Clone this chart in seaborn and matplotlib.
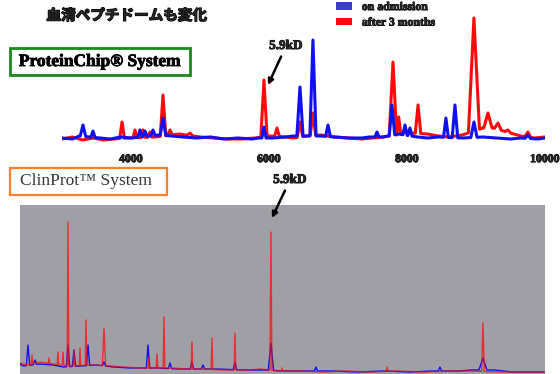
import numpy as np
import pandas as pd
import seaborn as sns
import matplotlib.pyplot as plt
import matplotlib.patheffects as pe
from matplotlib.patches import Rectangle, Patch

# ---- data (m/z, intensity in arbitrary units) ----
# upper panel: ProteinChip
top_blue_base_mz = [3000, 3150, 3250, 3400, 3550, 3700, 3850, 4000, 4400, 4600, 4750, 4950, 5150,
                    5350, 5550, 5750, 5850, 6050, 6250, 6350, 6750, 6950, 7150, 7350, 7450, 7650,
                    7880, 8150, 8300, 8450, 8800, 9100, 9300, 9500, 9650, 9900, 10000]
top_blue_base_int = [4, 3, 6, 5, 4, 3, 5, 4, 7, 6, 5, 4, 5,
                     3, 4, 3, 4, 4, 5, 6, 6, 5, 4, 4, 5, 5,
                     8, 5, 4, 5, 4, 5, 4, 3, 4, 3, 4]
top_blue_peak_mz = [3304, 3449, 4130, 4203, 4319, 4464, 5927, 6449, 6637, 6855, 7565, 7782,
                    7971, 8043, 8564, 8695, 8970, 9752]
top_blue_peak_int = [17, 11, 12, 11, 12, 24, 15, 55, 102, 17, 10, 37,
                     17, 14, 24, 37, 20, 7]
top_blue_peak_w = [40, 30, 30, 30, 30, 40, 30, 45, 45, 35, 30, 40,
                   30, 30, 35, 40, 45, 40]

top_red_base_mz = [3000, 3150, 3300, 3450, 3600, 3750, 3950, 4350, 4700, 5000, 5200, 5400, 5600,
                   5800, 6000, 6250, 6350, 6550, 6750, 6950, 7150, 7350, 7500, 7650, 8050, 8300,
                   8450, 8600, 8800, 9100, 9250, 9400, 9550, 9650, 9850, 10000]
top_red_base_int = [3, 5, 2, 4, 2, 3, 4, 5, 8, 5, 4, 3, 3,
                    4, 6, 5, 4, 6, 7, 5, 4, 3, 4, 5, 9, 8,
                    6, 5, 7, 14, 14, 11, 8, 6, 4, 5]
top_red_peak_mz = [3870, 4058, 4174, 4275, 4464, 4565, 4855, 5927, 6116, 6449, 6637, 7797,
                   7880, 7971, 8160, 8970, 9173, 9318, 9463, 9752]
top_red_peak_int = [20, 12, 12, 10, 47, 12, 9, 62, 14, 20, 29, 80,
                    25, 14, 37, 124, 29, 19, 12, 10]
top_red_peak_w = [35, 30, 30, 30, 40, 35, 40, 45, 35, 40, 40, 55,
                  30, 30, 40, 80, 60, 50, 40, 40]

top_ticks = [4000, 6000, 8000, 10000]

# lower panel: ClinProt
bot_blue_base_mz = [2150, 2200, 2450, 2650, 2800, 3050, 3300, 3550, 3800, 4200, 4550, 5050, 5550,
                    5800, 6100, 6400, 6800, 7200, 7600, 8000, 8300, 8700, 8900, 9250, 9500, 10000]
bot_blue_base_int = [10, 8, 10, 9, 7, 8, 9, 7, 6, 6, 5, 5, 4,
                     4, 3, 3, 3, 2, 3, 2, 3, 3, 4, 4, 2, 2]
bot_blue_peak_mz = [2270, 2374, 2868, 2957, 3167, 3406, 4064, 4393, 4721, 4886, 5364, 5902,
                    6575, 8429, 9072]
bot_blue_peak_int = [29, 14, 29, 24, 29, 12, 29, 11, 12, 9, 12, 31, 7, 7, 16]
bot_blue_peak_w = [25, 25, 25, 25, 25, 25, 25, 25, 25, 25, 25, 40, 25, 25, 60]

bot_red_base_mz = [2150, 2250, 2450, 2650, 2900, 3250, 3500, 3700, 3950, 4450, 4600, 4900, 5200,
                   5550, 5750, 6000, 6300, 6700, 7000, 7400, 7800, 8200, 8600, 8900, 9300, 10000]
bot_red_base_int = [11, 9, 12, 10, 8, 9, 8, 7, 6, 6, 5, 5, 4,
                    4, 5, 3, 3, 2, 3, 2, 3, 2, 3, 3, 2, 2]
bot_red_peak_mz = [2329, 2584, 2718, 2793, 2868, 2957, 3047, 3137, 3406, 4079, 4198, 4303,
                   4721, 5020, 5364, 5902, 6067, 7637, 9072]
bot_red_peak_int = [19, 16, 22, 22, 152, 24, 26, 54, 46, 17, 20, 57,
                    32, 36, 41, 142, 6, 7, 51]
bot_red_peak_w = [12, 12, 12, 12, 12, 12, 12, 12, 25, 12, 12, 12,
                  12, 12, 12, 15, 12, 12, 20]

series_names = ['on admission', 'after 3 months']
series_colors = {'on admission': '#1010f0', 'after 3 months': '#ff0a0a'}


def build_trace(base_mz, base_int, pk_mz, pk_int, pk_w, name):
    """Polyline of a spectrum: baseline points plus one triangle per peak."""
    pts = [(m, v) for m, v in zip(base_mz, base_int)
           if all(abs(m - p) > w for p, w in zip(pk_mz, pk_w))]
    for p, h, w in zip(pk_mz, pk_int, pk_w):
        foot_l = np.interp(p - w, base_mz, base_int)
        foot_r = np.interp(p + w, base_mz, base_int)
        pts += [(p - w, foot_l), (p, h), (p + w, foot_r)]
    df = pd.DataFrame(pts, columns=['mz', 'intensity']).sort_values('mz')
    df['series'] = name
    return df


top_blue = build_trace(top_blue_base_mz, top_blue_base_int, top_blue_peak_mz,
                       top_blue_peak_int, top_blue_peak_w, series_names[0])
top_red = build_trace(top_red_base_mz, top_red_base_int, top_red_peak_mz,
                      top_red_peak_int, top_red_peak_w, series_names[1])
bot_blue = build_trace(bot_blue_base_mz, bot_blue_base_int, bot_blue_peak_mz,
                       bot_blue_peak_int, bot_blue_peak_w, series_names[0])
bot_red = build_trace(bot_red_base_mz, bot_red_base_int, bot_red_peak_mz,
                      bot_red_peak_int, bot_red_peak_w, series_names[1])

# ---- figure ----
sns.set_style('white')
plt.rcParams['font.family'] = ['Liberation Serif', 'DejaVu Serif']

W, H = 560, 374
fig = plt.figure(figsize=(5.6, 3.74), dpi=100)
heavy = [pe.withStroke(linewidth=0.6, foreground='black')]

# upper spectrum
ax1 = fig.add_axes([62 / W, 1 - 142 / H, 483 / W, 127 / H])
sns.lineplot(data=top_red, x='mz', y='intensity', color=series_colors['after 3 months'],
             linewidth=2.2, sort=False, estimator=None, ax=ax1)
sns.lineplot(data=top_blue, x='mz', y='intensity', color=series_colors['on admission'],
             linewidth=2.2, sort=False, estimator=None, ax=ax1)
ax1.set_xlim(3000, 10000)
ax1.set_ylim(0, 127)
ax1.set_xticks(top_ticks)
ax1.set_xticklabels([str(t) for t in top_ticks], fontsize=8.5, fontweight='bold')
for lbl in ax1.get_xticklabels():
    lbl.set_path_effects(heavy)
ax1.tick_params(axis='x', length=0, pad=8)
ax1.set_yticks([])
ax1.set_xlabel('')
ax1.set_ylabel('')
ax1.patch.set_alpha(0)
for s in ax1.spines.values():
    s.set_visible(False)
ax1.annotate('5.9kD', xy=(5985, 57), xytext=(286 / W, 1 - 46 / H),
             textcoords='figure fraction', ha='center', va='center',
             fontsize=9.5, fontweight='bold', path_effects=heavy,
             arrowprops=dict(arrowstyle='-|>', color='black', lw=1.8,
                             mutation_scale=8, shrinkA=1, shrinkB=0))

# lower spectrum
ax2 = fig.add_axes([20 / W, 0, 525 / W, 169 / H])
ax2.set_facecolor('#a09fa5')
sns.lineplot(data=bot_blue, x='mz', y='intensity', color=series_colors['on admission'],
             linewidth=1.0, sort=False, estimator=None, ax=ax2)
sns.lineplot(data=bot_red, x='mz', y='intensity', color=series_colors['after 3 months'],
             linewidth=1.0, alpha=0.75, sort=False, estimator=None, ax=ax2)
ax2.set_xlim(2150, 10000)
ax2.set_ylim(0, 169)
ax2.set_xticks([])
ax2.set_yticks([])
ax2.set_xlabel('')
ax2.set_ylabel('')
for s in ax2.spines.values():
    s.set_visible(False)
ax2.annotate('5.9kD', xy=(5917, 156), xytext=(290 / W, 1 - 180 / H),
             textcoords='figure fraction', ha='center', va='center',
             fontsize=9.5, fontweight='bold', annotation_clip=False, path_effects=heavy,
             arrowprops=dict(arrowstyle='-|>', color='black', lw=1.8,
                             mutation_scale=8, shrinkA=1, shrinkB=0))

# title
fig.text(127 / W, 1 - 15 / H, '血清ペプチドームも変化', ha='center', va='center',
         fontsize=10.5, fontweight='bold', family=['Noto Sans CJK JP', 'DejaVu Sans'],
         path_effects=[pe.withStroke(linewidth=0.9, foreground='black')])

# legend
handles = [Patch(facecolor='#3a3ad0', edgecolor='none', label=series_names[0]),
           Patch(facecolor='#ff0a0a', edgecolor='none', label=series_names[1])]
leg = fig.legend(handles=handles, loc='upper left', bbox_to_anchor=(330 / W, 1.013),
                 frameon=False, borderpad=0, handlelength=1.35, handleheight=0.6,
                 handletextpad=0.85, labelspacing=0.3,
                 prop={'size': 8.5, 'weight': 'bold'})
for t in leg.get_texts():
    t.set_path_effects(heavy)

# system boxes
fig.add_artist(Rectangle((10 / W, 1 - 75 / H), 180 / W, 27 / H, transform=fig.transFigure,
                         facecolor='white', edgecolor='#1a8a1a', linewidth=2))
fig.text(100 / W, 1 - 62 / H, 'ProteinChip® System', ha='center', va='center',
         fontsize=12.5, fontweight='bold', color='black', path_effects=heavy)
fig.add_artist(Rectangle((10 / W, 1 - 195 / H), 157 / W, 27 / H, transform=fig.transFigure,
                         facecolor='white', edgecolor='#ff7f2a', linewidth=1.6))
fig.text(86 / W, 1 - 181 / H, 'ClinProt™ System', ha='center', va='center',
         fontsize=12.5, color='#333333')

fig.savefig('out.png', dpi=100)
